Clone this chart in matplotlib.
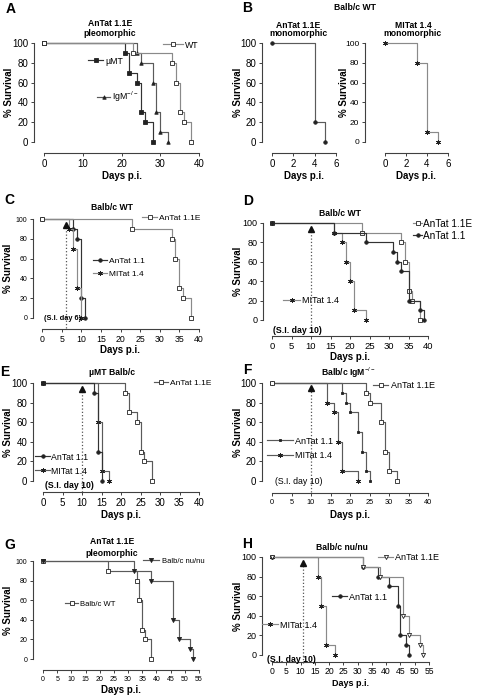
import numpy as np
import matplotlib.pyplot as plt
from matplotlib.legend import Legend

plt.rcParams['font.family'] = ['Liberation Sans', 'DejaVu Sans']
plt.rcParams['mathtext.fontset'] = 'custom'
plt.rcParams['mathtext.rm'] = 'Liberation Sans'
plt.rcParams['mathtext.bf'] = 'Liberation Sans:bold'

W, H = 478, 700

# ---- survival data (day, % survival) ----
# A: AnTat 1.1E pleomorphic
a_wt_t, a_wt_s = [0, 23, 33, 34, 35, 36, 38], [100, 90, 80, 60, 30, 20, 0]
a_mumt_t, a_mumt_s = [0, 21, 22, 24, 25, 26, 28], [100, 90, 70, 60, 30, 20, 0]
a_igm_t, a_igm_s = [0, 24, 25, 28, 29, 30, 32], [100, 90, 80, 60, 30, 10, 0]
# B: Balb/c WT, monomorphic
b_ant_t, b_ant_s = [0, 4, 5], [100, 20, 0]
b_mit_t, b_mit_s = [0, 3, 4, 5], [100, 80, 10, 0]
# C: Balb/c WT
c_e_t, c_e_s = [0, 23, 33, 34, 35, 36, 38], [100, 90, 80, 60, 30, 20, 0]
c_11_t, c_11_s = [0, 8, 9, 10, 11], [100, 90, 80, 20, 0]
c_14_t, c_14_s = [0, 7, 8, 9, 10], [100, 90, 70, 30, 0]
# D: Balb/c WT
d_e_t, d_e_s = [0, 23, 33, 34, 35, 36, 38], [100, 90, 80, 60, 30, 20, 0]
d_11_t, d_11_s = [0, 16, 24, 31, 32, 33, 35, 38, 39], [100, 90, 80, 70, 60, 50, 20, 10, 0]
d_14_t, d_14_s = [0, 16, 18, 19, 20, 21, 24], [100, 90, 80, 60, 40, 10, 0]
# E: muMT Balb/c
e_e_t, e_e_s = [0, 21, 22, 24, 25, 26, 28], [100, 90, 70, 60, 30, 20, 0]
e_11_t, e_11_s = [0, 13, 14, 15], [100, 90, 30, 0]
e_14_t, e_14_s = [0, 14, 15, 17], [100, 60, 10, 0]
# F: Balb/c IgM-/-
f_e_t, f_e_s = [0, 24, 25, 28, 29, 30, 32], [100, 90, 80, 60, 30, 10, 0]
f_11_t, f_11_s = [0, 18, 19, 20, 22, 23, 24, 25], [100, 90, 80, 70, 50, 30, 10, 0]
f_14_t, f_14_s = [0, 14, 16, 17, 18, 22], [100, 80, 70, 40, 10, 0]
# G: AnTat 1.1E pleomorphic
g_wt_t, g_wt_s = [0, 23, 33, 34, 35, 36, 38], [100, 90, 80, 60, 30, 20, 0]
g_nu_t, g_nu_s = [0, 32, 38, 46, 48, 52, 53], [100, 90, 80, 40, 20, 10, 0]
# H: Balb/c nu/nu
h_e_t, h_e_s = [0, 32, 38, 46, 48, 52, 53], [100, 90, 80, 40, 20, 10, 0]
h_11_t, h_11_s = [0, 32, 37, 41, 44, 45, 47, 48], [100, 90, 80, 70, 50, 20, 10, 0]
h_14_t, h_14_s = [0, 16, 17, 19, 22], [100, 80, 50, 10, 0]

fig = plt.figure(figsize=(W / 100, H / 100), dpi=100)
AX = '#404040'
PT = 100 / 72  # px per point


def make_axes(x0, x1, y100, y0, spx, spy, xmax, xticks, xfs=7, yfs=7, xpad=2):
    ax = fig.add_axes([x0 / W, 1 - y0 / H, (x1 - x0) / W, (y0 - y100) / H])
    ax.set_xlim(0, xmax)
    ax.set_ylim(0, 100)
    ax.patch.set_visible(False)
    for s in ['top', 'right']:
        ax.spines[s].set_visible(False)
    ax.spines['left'].set_position(('outward', (x0 - spx) / PT))
    ax.spines['bottom'].set_position(('outward', (spy - y0) / PT))
    ax.spines['left'].set_bounds(0, 100)
    for s in ['left', 'bottom']:
        ax.spines[s].set_color(AX)
        ax.spines[s].set_linewidth(0.8)
    ax.set_xticks(xticks)
    ax.set_yticks(range(0, 101, 20))
    ax.tick_params(axis='x', length=2.5, width=0.7, color=AX, labelsize=xfs, pad=xpad)
    ax.tick_params(axis='y', length=2.5, width=0.7, color=AX, labelsize=yfs, pad=1.5)
    ax.px = (x0, x1, y100, y0)
    return ax


def labels(ax, ylab_px, xlab_py, fs=7, xfs=None):
    x0, x1, y100, y0 = ax.px
    ax.set_ylabel('% Survival', fontsize=fs, fontweight='bold')
    ax.yaxis.label.set_va('center')
    ax.yaxis.set_label_coords((ylab_px - x0) / (x1 - x0), 0.5)
    ax.set_xlabel('Days p.i.', fontsize=xfs or fs, fontweight='bold')
    ax.xaxis.label.set_va('center')
    ax.xaxis.set_label_coords(0.5, (y0 - xlab_py) / (y0 - y100))


def curve(ax, t, s, color, marker, ms=3, mfc=None, lw=0.85):
    line, = ax.plot(t, s, drawstyle='steps-post', color=color, lw=lw,
                    marker=marker, ms=ms, mfc=mfc if mfc else '#222222',
                    mec='#222222', mew=0.6, clip_on=False)
    return line


def tag(ax, line, label, hx0, hx1, tx, py, fs=6.5):
    # legend entry: handle from hx0 to hx1 px, text starting at tx px
    x0, x1, y100, y0 = ax.px
    f = fs * PT
    leg = Legend(ax, [line], [label], loc='center left',
                 bbox_to_anchor=((hx0 - x0) / (x1 - x0), (y0 - py) / (y0 - y100)),
                 frameon=False, fontsize=fs, handlelength=(hx1 - hx0) / f,
                 handletextpad=max(tx - hx1, 0.5) / f,
                 borderpad=0, borderaxespad=0, numpoints=1)
    ax.add_artist(leg)


def si_arrow(ax, day, lo, hi, text, tx, ty, fs=6.3, weight='bold'):
    ax.plot([day, day], [lo, hi], ls=':', color='#555555', lw=0.9, clip_on=False)
    ax.plot([day], [hi], marker='^', color='#111111', ms=4.5, clip_on=False)
    x0, x1, y100, y0 = ax.px
    ax.text((tx - x0) / (x1 - x0), (y0 - ty) / (y0 - y100), text, transform=ax.transAxes,
            fontsize=fs, fontweight=weight, ha='left', va='center')


def ftext(px, py, s, fs=6.2, weight='bold'):
    fig.text(px / W, 1 - py / H, s, fontsize=fs, fontweight=weight, ha='center', va='center')


DARK, MID, LIGHT = '#333333', '#5a5a5a', '#8a8a8a'
ast = (6, 2, 0)

# ---- A ----
ax = make_axes(44, 199, 43, 142, 34, 153, 40, range(0, 41, 10))
l_mu = curve(ax, a_mumt_t, a_mumt_s, DARK, 's', 2.8)
l_ig = curve(ax, a_igm_t, a_igm_s, MID, '^', 2.5)
l_wt = curve(ax, a_wt_t, a_wt_s, LIGHT, 's', 3.2, 'white')
tag(ax, l_wt, 'WT', 163, 183, 185, 45, 6.3)
tag(ax, l_mu, 'µMT', 88, 103, 105, 61, 6.3)
tag(ax, l_ig, r'IgM$^{-/-}$', 97, 110, 112, 97, 6.3)
labels(ax, 9, 176)
ftext(110, 24, 'AnTat 1.1E')
ftext(110, 34, 'pleomorphic')
ftext(11, 9, 'A', 10)

# ---- B ----
ax = make_axes(272, 336, 43, 142, 262, 153, 6, range(0, 7, 2))
curve(ax, b_ant_t, b_ant_s, MID, 'o', 2.5)
labels(ax, 238, 176)
ftext(298, 25, 'AnTat 1.1E')
ftext(298, 34, 'monomorphic')
ax = make_axes(385, 448, 43, 142, 365, 153, 6, range(0, 7, 2), yfs=6)
curve(ax, b_mit_t, b_mit_s, LIGHT, ast, 3.5)
labels(ax, 344, 176)
ftext(413, 25, 'MITat 1.4')
ftext(413, 34, 'monomorphic')
ftext(355, 7, 'Balb/c WT')
ftext(247, 8, 'B', 10)

# ---- C ----
ax = make_axes(42, 199, 219, 318, 33, 329, 40, range(0, 41, 5), xfs=6.3, yfs=5)
l_11 = curve(ax, c_11_t, c_11_s, DARK, 'o', 2.5)
l_14 = curve(ax, c_14_t, c_14_s, LIGHT, ast, 3.5)
l_e = curve(ax, c_e_t, c_e_s, LIGHT, 's', 3.2, 'white')
tag(ax, l_e, 'AnTat 1.1E', 142, 157, 159, 218, 6)
tag(ax, l_11, 'AnTat 1.1', 93, 107, 109, 261, 6)
tag(ax, l_14, 'MITat 1.4', 93, 107, 109, 274, 6)
si_arrow(ax, 6, -10, 94, '(S.I. day 6)', 44, 319, fs=5.3)
labels(ax, 8, 350)
ftext(112, 207, 'Balb/c WT')
ftext(9, 200, 'C', 10)

# ---- D ----
ax = make_axes(272, 428, 223, 320, 263, 336, 40, range(0, 41, 5), xfs=6.8, yfs=6.5, xpad=1.5)
l_14 = curve(ax, d_14_t, d_14_s, LIGHT, ast, 3.5)
l_e = curve(ax, d_e_t, d_e_s, LIGHT, 's', 3.2, 'white')
l_11 = curve(ax, d_11_t, d_11_s, DARK, 'o', 2.5)
tag(ax, l_e, 'AnTat 1.1E', 413, 422, 423, 224, 7.2)
tag(ax, l_11, 'AnTat 1.1', 413, 422, 423, 236, 7.2)
tag(ax, l_14, 'MITat 1.4', 283, 300, 302, 301, 6.5)
si_arrow(ax, 10, -12, 94, '(S.I. day 10)', 273, 331)
labels(ax, 238, 357)
ftext(340, 213, 'Balb/c WT')
ftext(248, 201, 'D', 10)

# ---- E ----
ax = make_axes(43, 199, 383, 481, 33, 492, 40, range(0, 41, 5))
l_e = curve(ax, e_e_t, e_e_s, MID, 's', 3.2, 'white')
l_14 = curve(ax, e_14_t, e_14_s, MID, ast, 3.5)
l_11 = curve(ax, e_11_t, e_11_s, DARK, 'o', 2.5)
tag(ax, l_e, 'AnTat 1.1E', 154, 168, 170, 383, 6)
tag(ax, l_11, 'AnTat 1.1', 35, 50, 51, 457, 6.3)
tag(ax, l_14, 'MITat 1.4', 35, 50, 51, 471, 6.3)
si_arrow(ax, 10, -11, 94, '(S.I. day 10)', 45, 485)
labels(ax, 8, 515)
ftext(112, 373, 'µMT Balb/c')
ftext(5, 372, 'E', 10)

# ---- F ----
ax = make_axes(272, 428, 383, 481, 262, 493, 40, range(0, 41, 5), xfs=5.3)
l_14 = curve(ax, f_14_t, f_14_s, MID, ast, 3.5)
l_11 = curve(ax, f_11_t, f_11_s, MID, 's', 2.0)
l_e = curve(ax, f_e_t, f_e_s, MID, 's', 3.2, 'white')
tag(ax, l_e, 'AnTat 1.1E', 373, 388, 391, 386, 6.5)
tag(ax, l_11, 'AnTat 1.1', 267, 293, 295, 441, 6.5)
tag(ax, l_14, 'MITat 1.4', 267, 293, 295, 456, 6.5)
si_arrow(ax, 10, -11, 95, '(S.I. day 10)', 275, 481, weight='normal')
labels(ax, 238, 515)
ftext(348, 373, r'Balb/c IgM$^{-/-}$')
ftext(247, 370, 'F', 10)

# ---- G ----
ax = make_axes(43, 199, 561, 659, 33, 670, 55, range(0, 56, 5), xfs=5, yfs=5)
l_wt = curve(ax, g_wt_t, g_wt_s, MID, 's', 3.2, 'white')
l_nu = curve(ax, g_nu_t, g_nu_s, MID, 'v', 3)
tag(ax, l_nu, 'Balb/c nu/nu', 143, 159, 162, 561, 5.5)
tag(ax, l_wt, 'Balb/c WT', 65, 78, 80, 604, 5.5)
labels(ax, 8, 690)
ftext(112, 542, 'AnTat 1.1E')
ftext(112, 554, 'pleomorphic')
ftext(10, 545, 'G', 10)

# ---- H ----
ax = make_axes(272, 429, 557, 655, 262, 662, 55, range(0, 56, 5), xfs=6.2, yfs=6.5, xpad=1)
l_14 = curve(ax, h_14_t, h_14_s, LIGHT, ast, 3.5)
l_11 = curve(ax, h_11_t, h_11_s, DARK, 'o', 2.5)
l_e = curve(ax, h_e_t, h_e_s, LIGHT, 'v', 3, 'white')
tag(ax, l_e, 'AnTat 1.1E', 378, 393, 395, 558, 6.5)
tag(ax, l_11, 'AnTat 1.1', 332, 347, 349, 597, 6.5)
tag(ax, l_14, 'MITat 1.4', 262, 278, 280, 625, 6.5)
si_arrow(ax, 11, -8, 94, '(S.I. day 10)', 267, 659)
labels(ax, 238, 683, xfs=6.5)
ftext(342, 548, 'Balb/c nu/nu')
ftext(247, 544, 'H', 10)

fig.savefig('out.png', dpi=100)
